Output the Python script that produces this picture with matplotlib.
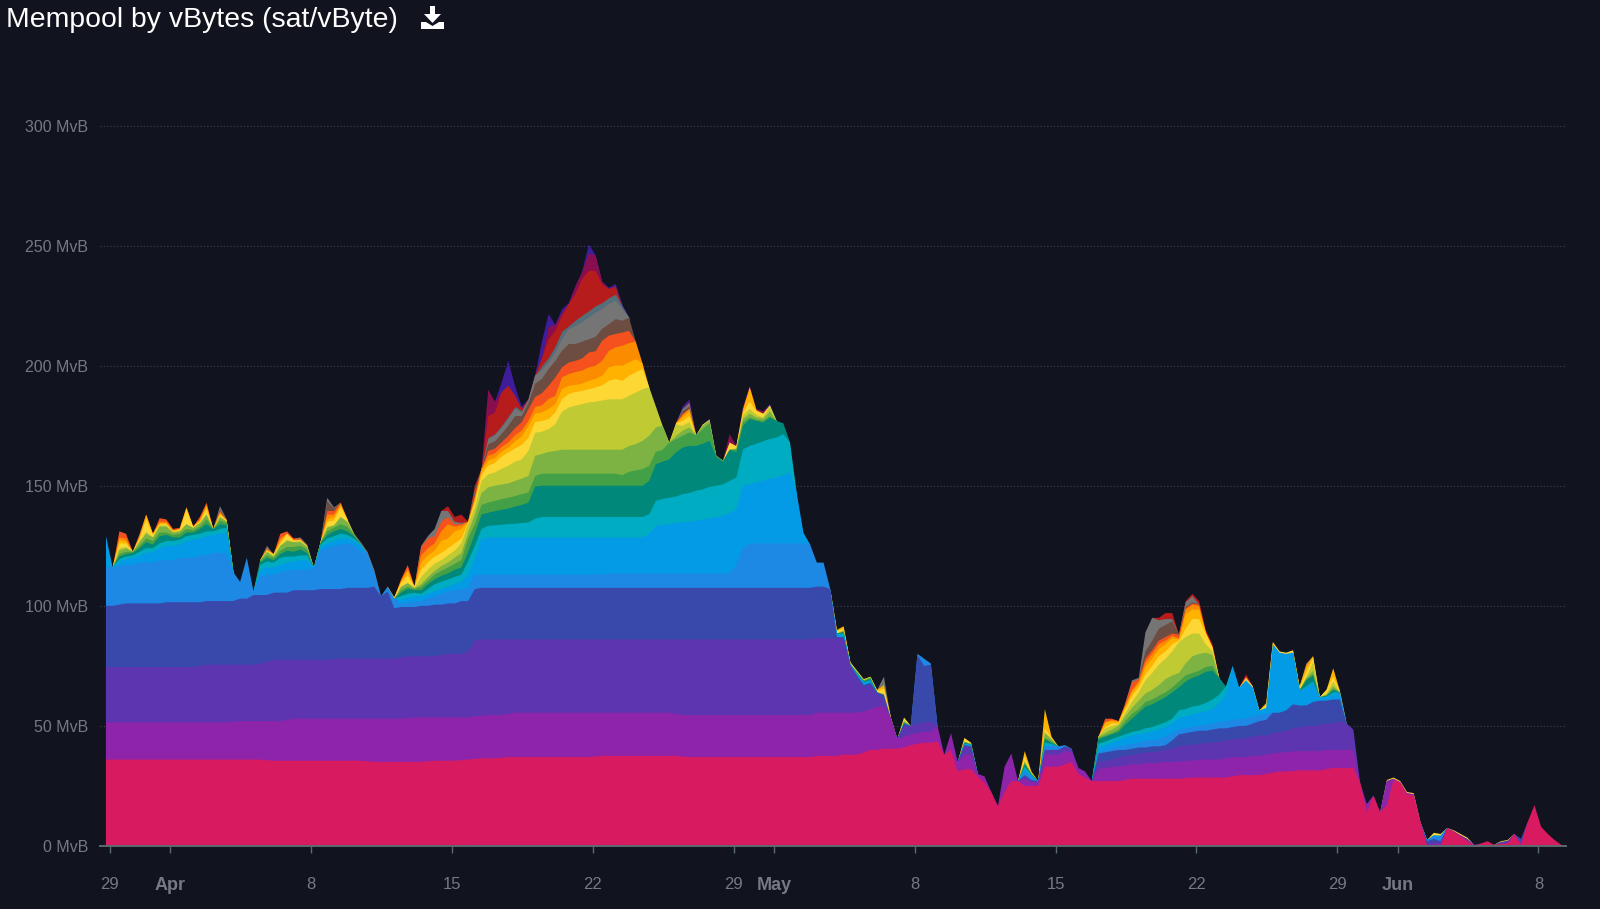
import numpy as np
import matplotlib
matplotlib.use("Agg")
import matplotlib.pyplot as plt
from matplotlib.patches import Polygon

BG = "#11131f"
N = 218
# one sample every 8 hours, counted in days from 29 March
step_index = list(range(N))
days_per_step = 1 / 3
first_day = -0.2

total = [129,116,131,130,122.5,130,138,130,136.5,136,
 132,132.5,141,133,137,143,132,141.5,136,114,
 110,120,106,119,125,121.5,130,131,128,128.5,
 125.5,116,126.5,145,141,143,136,130,126.5,122.5,
 115,104,108,103.5,111,117,108,125,129,132,
 139.5,141.5,137,138,135,
 150,157,190,185,193,202,191.5,183,186,196,
 210,221.5,217,223.5,226,233,239,250.5,246,235,
 232.5,234,225.5,220,210,201,191,183,175,168,
 176,183,186,171,175.5,178,162.5,160.5,171.5,166.5,
 183,191.5,182,181,184,177,176,168,147,130.5,
 125.5,
 118,118,107,90,91.5,76.5,73,69.5,70.5,65,70.5,54,44.5,53.5,50,80,78,76,50,38,47,35,45,43,30,29,22.5,16.5,33,38.5,27,39.5,31,27,57,45.5,41.5,42,40.5,32.5,31,27,
 45.5,53,53,52,59.5,69,70,89,95,95,
 97,97,88,102,105,102,90,84,70,66.5,
 75,66,71.5,66.5,56.5,59.5,85,81,80.5,81.5,
 66.5,76,79,62,65,74,64.5,51,48.5,
 26.5,17.5,21,14,27.5,28.5,27,22.5,22,10,
 2.5,5.5,5,7.5,6.5,5,3.5,0.5,1,2,
 0.5,2,2.5,5,3,10,17,8,5,2.5,0.5]

# upper edge of each lower band
pink_top = [36]*24+[35.75]+[35.5]*14+[35.25]+[35]*8+[35.25]+[35.5]*4+[35.75,36] \
 + [36.25,36.5,36.5,36.5,36.75]+[37]*13+[37.25]+[37.5]*12+[37.25]+[37]*19 \
 + [37.5]*4+[38]*3+[39,40,40,40.5,40.5,40.5,41,42,42.5,43,43,43.5,38,40,31,32,32,29,26.5,22.5,16.5,22.5,27,27,25,25,25,33,33,33,34,35,30,28.5,27] \
 + [27]*4+[27.5]+[28]*8+[28.25]+[28.5]*6+[29]+[29.5]*4+[30]+[30.5]+[31]*2+[31.25]+[31.5]*4+[32]+[32.5]*4 \
 + [26.5,14,21,14,17,27.5,26.5,21.5,21,10,0,0,0,7.5,6,4,2,0,1,2,0.5,1,1,5,0.5,10,17,8,5,2.5,0.5]

purple_top = [51.5]*19+[51.75]+[52]*7+[52.5]+[53]*17+[53.25]+[53.5]*9 \
 + [54,54.25]+[54.5]*3+[55]+[55.5]*24+[55]+[54.5]*20 \
 + [55.5]*7+[56,57,58,58,58,44.5,45.5,46.5,47,47.5,47.5,50,38,47,35,38,38,30,29,22.5,16.5,33,38.5,27,28,26.5,26.5,38,38,38,39.5,39,32.5,31,27] \
 + [32,32.5,33,33,33.5,34,34,34.5,34.5,34.5,35,35,35,35.5,35.5,36,36,36,36,36.5,37,37,37,37.5,37.5,38,38.5,39,39,39.5,39.5,39.5,39.5,39.5,40,40,40,40,40] \
 + [26.5,17.5,21,14,27,28,27,22.5,22,10,0.5,1,1,7.5,6.5,4.5,2.5,0.5,1,2,0.5,1,1.5,5,1,10,17,8,5,2.5,0.5]

deep_purple_top = [74.5]*14+[75]+[75.5]*8+[76,76.8]+[77.5]*9+[77.8]+[78]*9+[78.5]+[79]*5+[79.5]+[80]*3+[81] \
 + [85.5]+[86]*50 \
 + [86.5]*5+[75,70,66,67,63,61,52]+[44.5,50,50,51,51.5,52,50,38,47,35,41.5,41,30,29,22.5,16.5,33,38.5,27,29,27,27,39.5,40,40,41,41,32.5,31,27] \
 + [35,35.5,36,37,37.5,38,38.5,39,39,39.5,40,40.5,41.5,42,42,42.5,43,43,43.5,44,44.5,44.5,45,45.5,46,46,47,47.5,48,49,49.5,50,50,50.5,51,51,52,52,52] \
 + [26.5,17.5,21,14,27.5,28,27,22.5,22,10,1,1.5,1.5,7.5,6.5,4.5,3,0.5,1,2,0.5,1,1.5,5,1.5,10,17,8,5,2.5,0.5]

indigo_top = [100,100,100.5]+[101]*6+[101.5]*6+[102]*5+[103]*2+[104.5]*3+[105.5]*3+[106.5]*4+[107]*4+[107.5]*4+[108]+[104,106,99]+[99.5]*3+[100]*2+[100.5]*2+[101,101,102,102] \
 + [107]+[107.5]*50 \
 + [108,108,107,87,87,75.5,71,67,68,64,63,53,44.5,51,50,79.5,75,75.5,50,38,47,35,42,41.5,30,29,22.5,16.5,33,38.5,27,29.5,27.5,27,40,40,40,41.5,41.5,32.5,31,27] \
 + [38.5,39,39.5,40,40,40.5,41,41,41.5,41.5,42,44,46.5,47,47.5,48,48,48.5,49,49,49.5,50,50,51,52,52.5,55.5,55.5,56.5,59,58.5,58.5,60,60.5,60.5,61,61,51,48.5] \
 + [26.5,17.5,21,14,27.5,28,27,22.5,22,10,2,3,2,7.5,6.5,5,3,0.5,1,2,0.5,2,2.5,5,3,10,17,8,5,2.5,0.5]

blue_top = [116,116,116.5,117,117,118,118,118,119,119,119,120,120,120,121,121,122,122,122,
 114,110,120,106,112,113,113,114,114.5,115,115,115,116,
 123,124,125,125.5,126,125,123,122,115,104,108,103.5,
 101,101.5,102,102,103,104,105,106,106.5,107,107.5] \
 + [113]*20+[113.5]*19+[117,124]+[126]*10 \
 + [118,118,107]+[0]*12+[999,999,999]+[0]*13+[31,28.5,27.5,41.5,41.5,41.5,42,40.5]+[0]*3 \
 + [39,40,41,41.5,42,42.5,43,44,44,44.5,45.5,47,48.5,49,49.5,50,50.5,51,51.5,52,52.5,53,53,54,54.5,55]+[0]*13 \
 + [0]*10+[4,4,4]+[0]*18

light_blue_top = [129,116,118.5,119.5,120,121,122,122.5,124,125,125,125.5,127,127.5,128,129,129.5,130,130.5,
 999,999,999,999,115,116,116,117,118,118.5,119,119,116,
 124.5,126,127,128,128,127,125,122.5,115,104,108,103.5,
 102.5,103.5,104,104,105,106,107,108,109,110,113] \
 + [120,128]+[128.5]*24+[129.8,133.3,133.7,134,134.5,134.8,135,135.4,136,136.5,137,137.5,138.5,140.2,150,150.6,151.5,152,153,153.4,154.5,155.5,156,156,156] \
 + [0,0,0,88,88,0,71.5,68,68.5,64.5,61.5,0,0,51]+[0]*8+[42.5,42]+[0]*7+[32,29,0,42,42]+[0]*6 \
 + [41,42,43,44,45,46,46.5,47,47.5,48.5,49.5,51,53.4,54,54.8,55.5,56,57,59.6,63,999,999,69,66,999,57.5,999,999,999,999,64.5,66,68,999,62,63,64,999,999] \
 + [0]*11+[4.5,4.4]+[0]*18

cyan_top = [0,0,119.5,120.5,121,122.5,124,124,126,127,127,127.5,129,129.5,130,131,131,132,132.5,
 0,0,0,0,117,118.5,118,120,120.5,120.5,121,121,0,
 125.5,128,129,130,129.5,128,126,0,0,0,0,0,
 104,105,105.5,105,107,109,110,111,112,113,118.5] \
 + [125,132,133.3,133.5,133.8,134,134.2,134.5,134.7,136.3]+[137]*16+[138.1,143.7,144.5,145,145.5,146.5,147,147.9,148.5,149.5,150,150.6,152,153.4,165.2,166.6,167.5,168.5,169.5,170.1,171.5,172,172,172,172] \
 + [0,0,0,88.3,88.5,0,71.8,68.3,69,64.7,62,0,0,51.2]+[0]*8+[42.7,42.1]+[0]*7+[33,29.5,0,43,42.5]+[0]*6 \
 + [42.5,43.5,44.5,45.5,46.5,47.5,48,49,49.5,50.5,51.5,53,56.5,57,58,58.5,59.5,61,63,66.5]+[0]*10+[64.7,66.5,68.5,0,62.2,64,0,0,0] \
 + [0]*31

teal_top = [0,0,120.5,121.5,122,124,126.5,125.5,129,129.5,128.5,128.5,130.5,130.5,132,134,132,134,133.5,
 0,0,0,0,118,120,119,121.5,123,122.5,123.5,122,0,
 126,129.5,131,132,131,129,126.5,0,0,0,0,0,
 105.5,107,106.5,106.5,109,111,112.5,113.5,115,116,122.5] \
 + [130,138,138.8,139.4,140,140.5,141.3,142,143,149.7]+[150]*16+[152,159,160,161,163.9,165.9,166.6,166.6,167.5,168.7,162,160,165,164,175,177.7,177,176.3,178.4,177,176,176,176,176,176] \
 + [0,0,0,88.6,89,0,72,68.6,69.5,64.8,62.5,0,0,51.4]+[0]*8+[43,42.3]+[0]*7+[34,30,0,44.5,43]+[0]*6 \
 + [44.5,45.5,46.5,47.5,50.5,53,55.5,58,59,60.5,62,64,66,68.5,70,71,72.5,73,70,0]+[0]*10+[64.8,69,71,0,62.5,65,0,0,0] \
 + [0]*31

green_top = [0,0,121.5,122.5,122.5,125,128,127,130.5,130.5,129.5,130,132,131.5,133,136,132,135.5,134.5,
 0,0,0,0,119,121,120,123,124.5,124.5,125,123.5,0,
 126.5,131,132.5,134,133,129.5,126.5,0,0,0,0,0,
 106.5,108,107,108,110.5,113,114.5,116,117.5,119,128] \
 + [134,142,143,143.7,144.4,145,145.7,146.5,147.2,154]+[155]*12+[154.4,155.8,156.4,156.9,158.3,164.1,165,168,169.4,170.8,172.2,172,173.6,176,162.5,160.5,165.5,165,176.5,178.5,177.5,177,179,177,176,176,176,176,176] \
 + [0,0,0,88.8,89.2,0,72.2,68.8,70,64.9,63,0,0,51.6]+[0]*8+[43.2,42.4]+[0]*7+[34.5,30,0,45,43.5]+[0]*6 \
 + [45,46,47,48.5,52,55,57,60,61,62.5,64,66,68.5,71,72,73,74.5,75,70,0]+[0]*10+[64.9,69.5,71.5,0,62.7,65.5,0,0,0] \
 + [0]*31

light_green_top = [0,0,123,124,122.5,126.5,130,128.5,133,133,130.5,131,134,132.5,134.5,138,132,137,135,
 0,0,0,0,119,122.5,120.5,125,127,126.5,126.5,124.5,0,
 126.5,132.5,134,137,135,130,126.5,0,0,0,0,0,
 108,109.5,107.5,109,112,114.5,116.5,118,120,122,130.5] \
 + [138,147,149.3,150,150.5,151,152,153,154.1,162.5,163.2,164.1,164.5]+[165]*10+[166.6,167.3,168.7,170.8,174.3,175,168,170.8,172.9,174.3,172,175,177,162.5,160.5,166,165.5,178,180,178.5,178,181,177,176,176,176,176,176] \
 + [0,0,0,89,89.5,0,72.4,69,70.3,65,63,0,0,51.8]+[0]*8+[43.4,42.5]+[0]*7+[35,30,0,47,44.5]+[0]*6 \
 + [45.5,47,48.5,50,54,57.5,60.5,63.5,65,67,69.5,71,72,76,79,80,80.5,79.5,70,0]+[0]*10+[65,70,73,0,63,66.5,0,0,0] \
 + [0]*31

# thickness of the bands that ride on the outline
yellow = [0,0,2,1.5,0,1,5,1,.5,.5, .3,.5,6,.5,.5,2.5,0,1,.3,0, 0,0,0,0,.5,.5,1,2.5,.5,.5, .5,0,0,2,2,4,1,0,0,0, 0,0,0,.5,1.5,3,.5,3,3,3, 3,3,3,2,.5] \
 + [2,2.5,3.5,4,5,5.6,5.5,6,5.5,4.4, 4.5,4.1,4.9,5.2,5.6,5.7,5.5,5.5,5.9,6.3, 7.7,8.4,7.7,8.3,8.4,8.4,0,0,0,0, .5,2,2.5,0,0,.5,0,0,3,1, 1,3,1.5,1.5,.5,0,0,0,0,0, 0] \
 + [0,0,0,1,.5,0,.3,.3,0,.5,2,.5,0,1]+[0]*8+[1.4,.5]+[0]*7+[2,.5,0,1.5,.5]+[0]*6 \
 + [0,.5,1,.5,1.5,2.5,2,2.5,3,3.5, 3,3,.5,3.5,6,6,4.5,1.5,0,0, 0,0,1,.5,0,1,.5,.5,.5,1, 1,2,2,0,1.5,2,.5,0,0] \
 + [0,0,0,0,.4,.4,.4,.4,.4,0,0,1,.6,0,.3,.5,.5,0,0,0,0,.3,.3]+[0]*8

amber = [0,0,1.5,1,0,.5,1.5,.5,.5,.5, .2,.3,1,0,.5,1,0,.5,.3,0, 0,0,0,0,.5,0,1,0,.5,0, 0,0,0,1,1.5,1,0,0,0,0, 0,0,0,0,.5,2,0,3,3,2.5, 5,4,5,4,.5] \
 + [1,1.5,2.1,2,2,2,3,3.5,5,3.5, 3.5,4.2,3.5,4.2,3.4,3,3,3.5,3.6,4, 5.6,5.6,6.3,5.6,5.5,2.4,0,0,0,0, 0,1.5,2,0,0,0,0,0,0,0, 1.5,6,.5,0,0,0,0,0,0,0, 0] \
 + [0,0,0,.5,1,0,0,0,0,.5,1.5]+[0]*20+[2,.5,0,8,.5]+[0]*6 \
 + [0,2,1,.5,1,1.5,1.5,3,3,3, 3,2.5,.5,6,4,4,.5,.5,0,0, 0,0,0,0,0,1,.5,0,0,0, .5,2,.5,0,0,3.5,0,0,0] \
 + [0]*31

orange = [0,0,1,1,0,.5,.5,0,.5,.5, .2,0,0,0,.5,.5,0,.5,0,0, 0,0,0,0,0,0,1,0,0,0, 0,0,0,2,1,.5,0,0,0,0, 0,0,0,0,.5,1,0,3,3,3, 4,6,2,1.5,0] \
 + [1,1,2.1,2,2,2.1,2.5,2.5,2,2.8, 3,4.2,3.5,4.9,4.9,5.3,5.5,5.6,5.5,6.2, 6.9,7.6,8.3,8,7.3,0,0,0,0,0, 0,1,1,0,0,0,0,0,0,0]+[0]*11 \
 + [0]*42 \
 + [0,0,.5,.3,.5,1,1,2,2,2, 1.5,1,.5,2,2,1.5,0,0,0,0]+[0]*10+[0,1,0,0,0,0,0,0,0] \
 + [0]*31

deep_orange = [0,0,2.5,2,0,.5,0,0,1.5,1, .5,.5,0,0,1,1,0,.5,0,0, 0,0,0,0,.5,0,2,1,.5,.5, 0,0,0,1.5,1.5,.5,0,0,0,0, 0,0,0,0,.5,1.5,0,3.5,4,3, 4,3,1,.5,0] \
 + [1,0,2,2,2,2.8,3,3.5,4.9,4.2, 5,5.5,7.6,4.2,4.8,4.7,5,6.2,6,8.4, 6.3,5.6,5.5,5.1,0,0,0,0,0,0, 0,.5,0,0,0,0,0,0,0,0]+[0]*11 \
 + [0]*42 \
 + [0,1.5,.5,0,1,3,1,1.5,1.5,1.5, 1.5,1,1.5,.5,.5,.5,0,0,0,0, 0,0,.5,0,0,0,0,0,0,0]+[0]*9 \
 + [0]*31

brown = [0]*5+[.5]+[0]*11+[.5]+[0]*15+[4,1]+[0]*20 \
 + [1,0,2.8,3,3.5,4.2,5,2.5,2.6,5.5, 6,7,6.9,6.9,7.7,7,7,5.5,6,5, 4.8,6.2,4.9,5.5]+[0]*7+[1,1]+[0]*18 \
 + [0]*42 \
 + [0]*7+[3,4,5,5,5,0,.5,.5]+[0]*24 \
 + [0]*31

grey = [0]*10+[0]*7+[1.5,.3,0]+[0,0,0,0,1,0,0,0,0,.5]+[.5,0,0,1.5,.5,0,0,0,.8,.8]+[.8,0,0,0,0,0,0,.5,1,3]+[4.5,2.5,1,.5,0] \
 + [1,0,2.1,2.5,2.5,2.7,3,1.5,1.5,3.5, 3.5,2.7,3.5,4.8,6.2,7.5,8,9.1,10,8.2, 8.4,7.6,4.9]+[0]*8+[1,1.5]+[0]*18 \
 + [0]*10+[3.5]+[0]*31 \
 + [0]*5+[1,.5,8,9.5,3.5,2.5,1,0,2,2.5]+[0]*16+[.5]+[0]*7 \
 + [0]*31

blue_grey = [0]*55+[.5,0,.7,.7,1,1.3,1,.7,0,0, 2,2.1,2.8,3.5,1.4,2.5,3,2.8,3,2.7, 2.7,2.8,1]+[0]*140

red = [0]*51+[2,2,3.5,0] \
 + [1.5,0,8.8,8.8,13.9,12.6,4.5,.8,0,0, 3,7.6,6.2,6.3,9,10.8,15,16.6,14.5,7.7, 3.6,3.2]+[0]*29 \
 + [0]*42 \
 + [0]*9+[1,2.5,2.5,0,.5,1,1.5,1,1,0,0,0,0,1]+[0]*16 \
 + [0]*31

dark_pink = [0]*55+[0,0,11.1,4.5]+[0]*7+[5,2.5,1,0,3.2,3,7,6.5,1]+[0]*11+[0,.7]+[0]*5+[3.5,0,.5,.5,.5,1]+[0]*7+[0]*112

violet = [0]*55+[0,0,0,0,4,10.4,4,1,0,0,7,5.5,0,1.7,.4,0,0,4,0,0,.5,1,.9]+[0]*8+[1,.8,0,0,.5,0,0,0,0,.5,0,0,0,.5]+[0]*6+[0]*112

lower_bands = [pink_top, purple_top, deep_purple_top, indigo_top, blue_top,
               light_blue_top, cyan_top, teal_top, green_top, light_green_top]
upper_bands = [yellow, amber, orange, deep_orange, brown, grey, blue_grey,
               red, dark_pink, violet]
for i, b in enumerate(lower_bands + upper_bands + [total]):
    assert len(b) == N, (i, len(b))

lower_colors = ["#D81B60", "#8E24AA", "#5E35B1", "#3949AB", "#1E88E5",
                "#039BE5", "#00ACC1", "#00897B", "#43A047", "#7CB342"]
lime_color = "#C0CA33"
upper_colors = ["#FDD835", "#FFB300", "#FB8C00", "#F4511E", "#6D4C41",
                "#757575", "#546E7A", "#B71C1C", "#880E4F", "#3F1D9A"]

y_ticks = [0, 50, 100, 150, 200, 250, 300]
x_tick_days = [0, 3, 10, 17, 24, 31, 33, 40, 47, 54, 61, 64, 71]
x_tick_labels = ["29", "Apr", "8", "15", "22", "29", "May", "8", "15", "22", "29", "Jun", "8"]
bold_labels = {"Apr", "May", "Jun"}

plt.rcParams["font.family"] = ["Liberation Sans", "DejaVu Sans"]
W, H = 1600, 909
fig = plt.figure(figsize=(W / 100, H / 100), dpi=100, facecolor=BG)
ax = fig.add_axes([100 / W, (H - 846) / H, 1466 / W, 744.5 / H], facecolor=BG)

x = first_day + np.array(step_index) * days_per_step
tot = np.array(total, float)
up = np.array(upper_bands, float)
ceil = np.maximum(tot - up.sum(axis=0), 0)
low = np.maximum.accumulate(np.array(lower_bands, float), axis=0)
low = np.minimum(low, ceil)

for v in y_ticks[1:]:
    ax.axhline(v, color="#3f414d", lw=0.8, ls=(0, (1, 2)), zorder=1)

# band edges from the bottom up, then painted from the top band down
edges = [e for e in low] + [ceil]
colors = lower_colors + [lime_color] + upper_colors
prev = ceil
for thick in up:
    prev = prev + thick
    edges.append(prev)
edges = np.array(edges)
below = np.vstack([np.zeros(N), edges[:-1]])
for k in range(len(edges) - 1, -1, -1):
    present = edges[k] - below[k] > 0
    mask = present.copy()
    mask[1:] |= present[:-1]
    mask[:-1] |= present[1:]
    ax.fill_between(x, 0, edges[k], where=mask, color=colors[k], lw=0, zorder=2 + (len(edges) - k) * 0.01)

ax.set_xlim(-0.497, 72.37)
ax.set_ylim(0, 310)
for s in ["top", "right", "left"]:
    ax.spines[s].set_visible(False)
ax.spines["bottom"].set_color("#5c6b70")
ax.spines["bottom"].set_linewidth(1.4)
ax.spines["bottom"].set_zorder(5)

ax.set_yticks(y_ticks)
ax.set_yticklabels([f"{v} MvB" for v in y_ticks], fontsize=11.5, color="#767884")
ax.tick_params(axis="y", length=0, pad=8.7)
ax.set_xticks(x_tick_days)
ax.set_xticklabels(x_tick_labels, fontsize=12, color="#767884")
ax.tick_params(axis="x", length=5, width=1, color="#5c6b70", pad=17)
for lab in ax.get_xticklabels():
    if lab.get_text() in bold_labels:
        lab.set_fontweight("bold")
        lab.set_fontsize(13)

fig.text(6 / W, 1 - 27 / H, "Mempool by vBytes (sat/vByte)", fontsize=20.4,
         color="white", ha="left", va="baseline")

def px(points):
    return [(a / W, 1 - b / H) for a, b in points]

icon_arrow = [(430, 6), (435, 6), (435, 14), (441, 14), (432.5, 23), (424, 14), (430, 14)]
icon_tray = [(421, 22), (426, 22), (432.5, 26), (439, 22), (444, 22), (444, 29), (421, 29)]
for pts in (icon_arrow, icon_tray):
    fig.patches.append(Polygon(px(pts), closed=True, transform=fig.transFigure,
                               facecolor="white", edgecolor="none"))

fig.savefig("out.png", dpi=100, facecolor=BG)
